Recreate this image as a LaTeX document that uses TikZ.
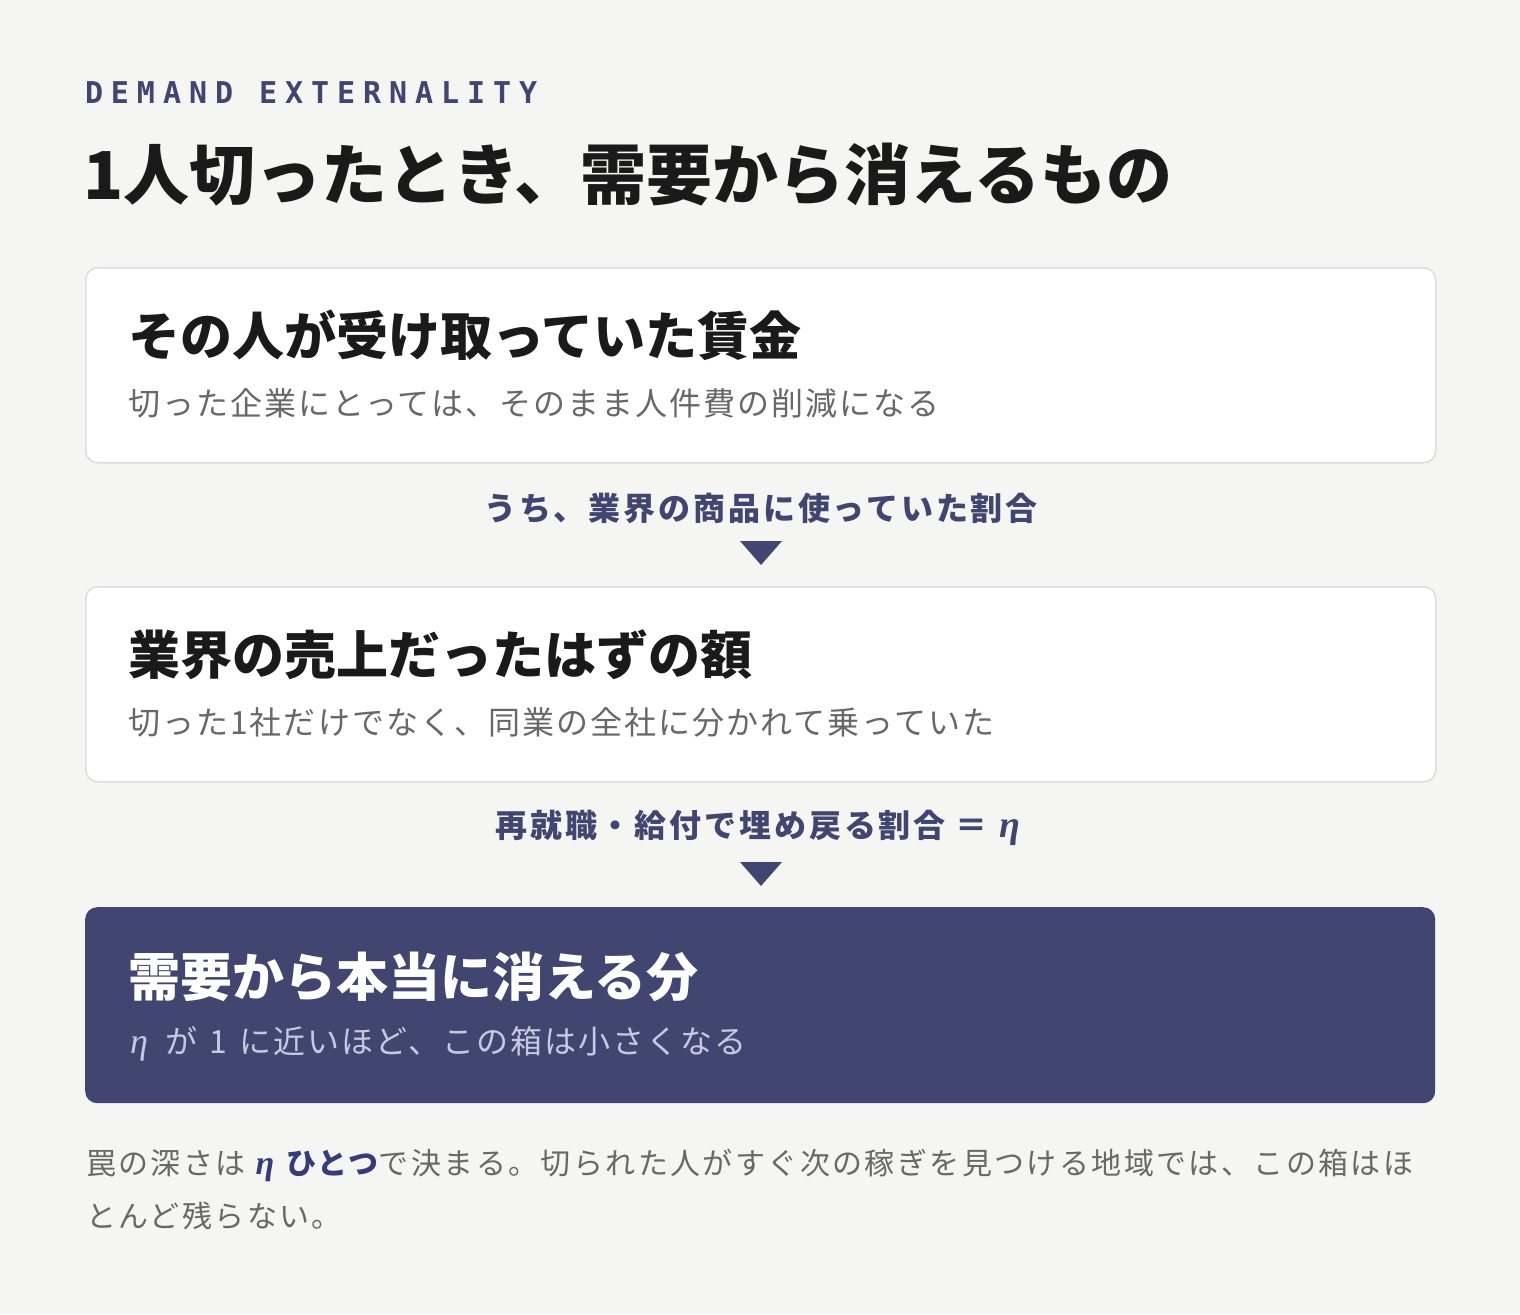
\documentclass[tikz,border=0pt]{standalone}
\usepackage{fontspec}
\setmainfont{Noto Sans CJK JP}
\newfontfamily\jptitle{Noto Sans CJK JP}
\newfontfamily\jpsub[LetterSpace=6.4]{Noto Sans CJK JP}
\newfontfamily\jplab[LetterSpace=9]{Noto Sans CJK JP}
\newfontfamily\jpfoot[LetterSpace=8]{Noto Sans CJK JP}
\newfontfamily\monolab[LetterSpace=26.5]{DejaVu Sans Mono}
\newfontfamily\greekit{Liberation Serif}
\definecolor{bg}{HTML}{F5F5F3}
\definecolor{navy}{HTML}{40466F}
\definecolor{ink}{HTML}{1A1A1A}
\definecolor{subgray}{HTML}{686868}
\definecolor{boxline}{HTML}{DDDDDD}
\definecolor{lav}{HTML}{C6C9E4}
\definecolor{footnavy}{HTML}{363C78}
\newcommand{\etaital}{{\greekit\itshape η}}
\tikzset{
  cardbox/.style={draw=boxline, line width=1.5pt, fill=white, rounded corners=12pt,
    minimum width=1350pt, minimum height=195pt, anchor=north west, inner sep=0pt},
  darkbox/.style={fill=navy, rounded corners=12pt,
    minimum width=1350pt, minimum height=196pt, anchor=north west, inner sep=0pt},
  txt/.style={anchor=west, inner sep=0pt, outer sep=0pt},
  cardtitle/.style={txt, text=ink, font=\jptitle\bfseries\fontsize{52}{60}\selectfont},
  cardsub/.style={txt, text=subgray, font=\jpsub\fontsize{32}{38}\selectfont},
  flowlab/.style={anchor=center, inner sep=0pt, text=navy, font=\jplab\bfseries\fontsize{32}{38}\selectfont},
  foot/.style={txt, text=subgray, font=\jpfoot\fontsize{30}{36}\selectfont},
}
\begin{document}
\begin{tikzpicture}[x=1pt,y=-1pt]
\useasboundingbox[fill=bg] (0,0) rectangle (1520,1314);

% header
\node[txt, text=navy, font=\monolab\bfseries\fontsize{30}{36}\selectfont] (kicker) at (85,93) {DEMAND EXTERNALITY};
\node[txt, text=ink, font=\jptitle\bfseries\fontsize{66}{78}\selectfont] (title) at (83,175) {1人切ったとき、需要から消えるもの};

% box 1
\node[cardbox] (b1) at (85,267) {};
\node[cardtitle] (b1t) at (128,335) {その人が受け取っていた賃金};
\node[cardsub] (b1s) at (128,403) {切った企業にとっては、そのまま人件費の削減になる};

% connector 1
\node[flowlab] (l1) at (761,508) {うち、業界の商品に使っていた割合};
\coordinate (t1) at (761,553);
\fill[navy] (t1) ++(-21,-12) -- ++(42,0) -- ++(-21,24) -- cycle;

% box 2
\node[cardbox] (b2) at (85,586) {};
\node[cardtitle] (b2t) at (128,655) {業界の売上だったはずの額};
\node[cardsub] (b2s) at (128,722) {切った1社だけでなく、同業の全社に分かれて乗っていた};

% connector 2
\node[flowlab] (l2) at (758,828) {再就職・給付で埋め戻る割合\hspace{10pt}＝\hspace{12pt}{\greekit\bfseries\itshape\fontsize{38}{40}\selectfont η}};
\coordinate (t2) at (761,874);
\fill[navy] (t2) ++(-21,-12) -- ++(42,0) -- ++(-21,24) -- cycle;

% box 3
\node[darkbox] (b3) at (85,907) {};
\node[cardsub, text=lav] (b3s) at (130,1044) {{\fontsize{36}{40}\selectfont\etaital}\hspace{18pt}が\hspace{12pt}1\hspace{12pt}に近いほど、この箱は小さくなる};
\node[cardtitle, text=white] (b3t) at (128,977) {需要から本当に消える分};

% footer
\node[foot] (f1) at (86,1165) {罠の深さは\hspace{10pt}{\color{footnavy}\bfseries{\fontsize{34}{40}\selectfont\greekit\itshape η}\hspace{12pt}ひとつ}で決まる。切られた人がすぐ次の稼ぎを見つける地域では、この箱はほ};
\node[foot] (f2) at (86,1216) {とんど残らない。};
\end{tikzpicture}
\end{document}
